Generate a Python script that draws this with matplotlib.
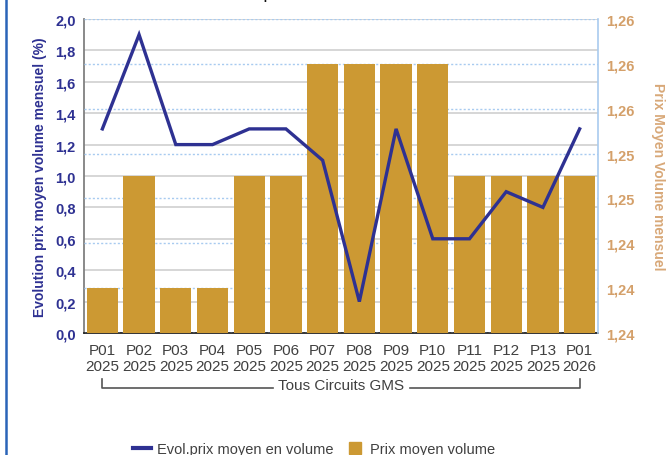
import matplotlib
matplotlib.use("Agg")
import matplotlib.pyplot as plt
import numpy as np
from matplotlib.lines import Line2D
from matplotlib.ticker import FuncFormatter, MultipleLocator

periods = ["P01", "P02", "P03", "P04", "P05", "P06", "P07", "P08", "P09", "P10", "P11", "P12", "P13", "P01"]
years = ["2025"] * 13 + ["2026"]
evol_pct = [1.3, 1.9, 1.2, 1.2, 1.3, 1.3, 1.1, 0.2, 1.3, 0.6, 0.6, 0.9, 0.8, 1.3]
prix_moyen = [1.240, 1.250, 1.240, 1.240, 1.250, 1.250, 1.260, 1.260, 1.260, 1.260, 1.250, 1.250, 1.250, 1.250]
group_label = "Tous Circuits GMS"

BLUE = "#2E3192"
GOLD = "#CC9933"
TAN = "#D4A06A"
TAN_LABEL = "#D8A878"
GRAY = "#404040"

plt.rcParams['font.family'] = ['Liberation Sans', 'DejaVu Sans']

fig = plt.figure(figsize=(6.68, 4.56), dpi=100)
pos = [84/668, (456-334)/456, (598-84)/668, (334-20)/456]
ax = fig.add_axes(pos)
ax2 = ax.twinx()
ax3 = ax.twinx()

x = np.arange(len(periods))

# left axis
ax.set_ylim(0, 2.0)
ax.yaxis.set_major_locator(MultipleLocator(0.2))
ax.yaxis.set_major_formatter(FuncFormatter(lambda v, p: f"{v:.1f}".replace(".", ",")))
ax.grid(axis='y', color='#D3D3D3', linewidth=1.3, linestyle='-')
ax.set_axisbelow(True)
ax.tick_params(axis='y', colors=BLUE, labelsize=10.5, length=0, pad=6)
for lbl in ax.get_yticklabels():
    lbl.set_fontweight('bold')
ax.set_ylabel("Evolution prix moyen volume mensuel (%)", color=BLUE, fontweight='bold', fontsize=10)
ax.yaxis.set_label_coords(-0.0725, 0.5)
ax.spines['top'].set_visible(False)
ax.spines['right'].set_visible(False)
ax.spines['left'].set_color('#808080')
ax.spines['left'].set_linewidth(1.3)
ax.spines['bottom'].set_color('#111111')
ax.spines['bottom'].set_linewidth(1.2)

ax.set_xlim(-0.5, len(periods) - 0.5)
ax.set_xticks(x)
ax.set_xticklabels([f"{p}\n{y}" for p, y in zip(periods, years)], color=GRAY, fontsize=11, linespacing=1.15)
ax.tick_params(axis='x', length=0, pad=7.5)

# right axis with bars
ax2.set_ylim(1.236, 1.264)
ax2.yaxis.set_major_locator(MultipleLocator(0.004))
ax2.yaxis.set_major_formatter(FuncFormatter(lambda v, p: f"{v:.2f}".replace(".", ",")))
ax2.grid(axis='y', color='#A8CBF0', linewidth=1.0, linestyle=(0, (1.5, 1.5)))
ax2.set_axisbelow(True)
ax2.bar(x, prix_moyen, width=0.85, color=GOLD, zorder=2)
ax2.tick_params(axis='y', colors=TAN, labelsize=10.5, length=0, pad=6)
for lbl in ax2.get_yticklabels():
    lbl.set_fontweight('bold')
ax2.set_ylabel("Prix Moyen Volume mensuel", color=TAN_LABEL, fontweight='bold', fontsize=10, rotation=270, labelpad=14)
ax2.yaxis.set_label_coords(1.13, 0.5)
for s in ['top', 'left', 'bottom']:
    ax2.spines[s].set_visible(False)
ax2.spines['right'].set_color('#A9CBEF')
ax2.spines['right'].set_linewidth(1.2)
ax2.set_xlim(-0.5, len(periods) - 0.5)

# line axis on top
ax3.set_ylim(ax.get_ylim())
ax3.plot(x, evol_pct, color=BLUE, linewidth=2.4, solid_joinstyle='miter', zorder=5)
ax3.set_yticks([])
for s in ax3.spines.values():
    s.set_visible(False)
ax3.patch.set_visible(False)
ax3.set_xlim(-0.5, len(periods) - 0.5)

# group bracket
trans = ax.get_xaxis_transform()
yb = -(389-334)/314
yt = -(380-334)/314
br_color = '#555555'
t = ax.text((x[0] + x[-1]) / 2, -(386-334)/314, group_label, transform=trans, ha='center', va='center',
            color=GRAY, fontsize=11, clip_on=False)
fig.canvas.draw()
bb = t.get_window_extent()
inv = ax.transData.inverted()
gap_l = inv.transform((bb.x0 - 5, 0))[0]
gap_r = inv.transform((bb.x1 + 6, 0))[0]
ax.plot([x[0], x[0], gap_l], [yt, yb, yb], color=br_color, lw=1.2, transform=trans, clip_on=False)
ax.plot([gap_r, x[-1], x[-1]], [yb, yb, yt], color=br_color, lw=1.2, transform=trans, clip_on=False)

# legend
handles = [Line2D([0], [0], color=BLUE, lw=3),
           Line2D([0], [0], color=GOLD, marker='s', markersize=9, linestyle='none')]
fig.legend(handles, ["Evol.prix moyen en volume", "Prix moyen volume"], loc='center',
           bbox_to_anchor=(314/668, 1 - 450/456), ncol=2, frameon=False, fontsize=10.5,
           labelcolor=GRAY, handlelength=1.2, columnspacing=0.9, handletextpad=0.4)

# frame line on the left
fig.add_artist(Line2D([6/668, 6/668], [0, 1], transform=fig.transFigure, color='#2A64B8', lw=1.8))

# cropped title (only the descender shows)
fig.text(292/668, 1 + 1.5/456, "Evolution des prix", ha='right', va='baseline', fontsize=13, color='#111111')

fig.savefig("out.png", dpi=100)
